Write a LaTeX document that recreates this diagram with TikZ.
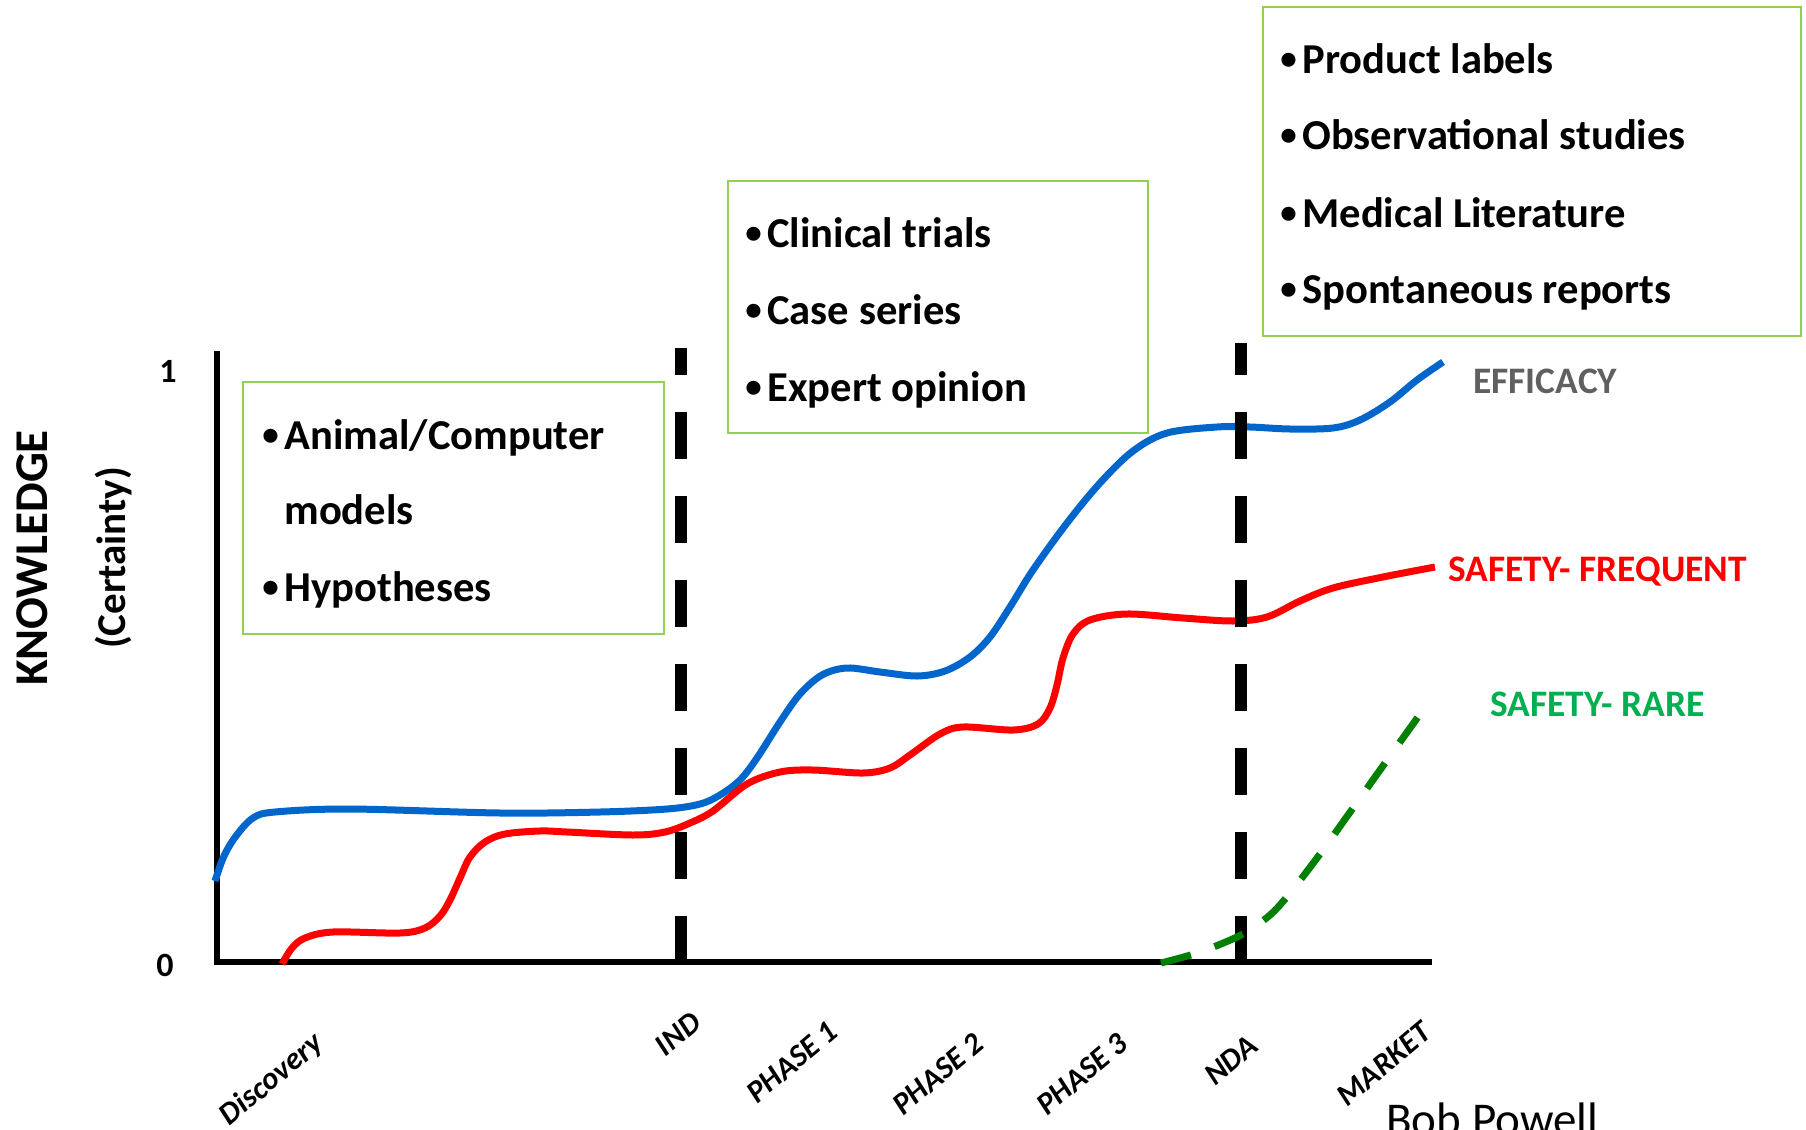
\documentclass[tikz,border=0pt]{standalone}
\usepackage{fontspec}
\setmainfont{Carlito}
\definecolor{boxgreen}{HTML}{92D050}
\definecolor{effblue}{HTML}{0066CC}
\definecolor{safred}{HTML}{FF0000}
\definecolor{raredash}{HTML}{008000}
\definecolor{raretext}{HTML}{00B050}
\definecolor{effgray}{HTML}{606060}
\begin{document}
\begin{tikzpicture}[x=0.5pt,y=-0.5pt,
  boxst/.style={draw=boxgreen, line width=1pt, inner sep=0pt},
  itemst/.style={anchor=base west, inner sep=0pt, font=\bfseries\fontsize{21.3pt}{25pt}\selectfont},
  bulst/.style={anchor=base west, inner sep=0pt, font=\bfseries\fontsize{16.5pt}{20pt}\selectfont},
  tickst/.style={rotate=40, inner sep=0pt, font=\bfseries\itshape\fontsize{15.6pt}{18pt}\selectfont},
  numst/.style={inner sep=0pt, font=\bfseries\fontsize{17pt}{20pt}\selectfont},
  seriesst/.style={anchor=base west, inner sep=0pt, font=\bfseries\fontsize{18.7pt}{22pt}\selectfont},
  axisst/.style={line width=3pt, black},
  phasest/.style={line width=6pt, black, dash pattern=on 23.5pt off 18.5pt},
  curvest/.style={line width=3.5pt, smooth, tension=0.55}
]
\useasboundingbox (0,0) rectangle (1806,1130);
\fill[white] (0,0) rectangle (1806,1130);

% axes
\coordinate (ytop) at (217,351);
\coordinate (origin) at (217,962);
\coordinate (xend) at (1432,962);
\draw[axisst] (ytop) |- (xend);

\node[numst] (one) at (168,371) {1};
\node[numst] (zero) at (165,965) {0};
\node[rotate=90, inner sep=0pt, font=\bfseries\fontsize{23.5pt}{28pt}\selectfont] (know) at (32,558) {KNOWLEDGE};
\node[rotate=90, inner sep=0pt, font=\bfseries\fontsize{20.5pt}{24pt}\selectfont] (cert) at (114,558) {(Certainty)};

% boxes
\node[boxst, anchor=north west, minimum width=210.5pt, minimum height=126pt] (box1) at (242,381) {};
\node[bulst] (b1a) at (262,445) {•};
\node[itemst] (t1a) at (284,449) {Animal/Computer};
\node[itemst] (t1b) at (284,524) {models};
\node[bulst] (b1c) at (262,597) {•};
\node[itemst] (t1c) at (284,601) {Hypotheses};

\node[boxst, anchor=north west, minimum width=210pt, minimum height=126pt] (box2) at (727,180) {};
\node[bulst] (b2a) at (745,243) {•};
\node[itemst] (t2a) at (767,247) {Clinical trials};
\node[bulst] (b2b) at (745,320) {•};
\node[itemst] (t2b) at (767,324) {Case series};
\node[bulst] (b2c) at (745,397) {•};
\node[itemst] (t2c) at (767,401) {Expert opinion};

\node[boxst, anchor=north west, minimum width=269pt, minimum height=164.5pt] (box3) at (1262,6) {};
\node[bulst] (b3a) at (1280,69) {•};
\node[itemst] (t3a) at (1302,73) {Product labels};
\node[bulst] (b3b) at (1280,145) {•};
\node[itemst] (t3b) at (1302,149) {Observational studies};
\node[bulst] (b3c) at (1280,223) {•};
\node[itemst] (t3c) at (1302,227) {Medical Literature};
\node[bulst] (b3d) at (1280,299) {•};
\node[itemst] (t3d) at (1302,303) {Spontaneous reports};

% curves
\draw[effblue, curvest] plot coordinates {(215,881) (224,856) (236,836) (253,818) (275,812) (350,809) (500,813) (600,812) (667,809) (700,804) (720,795) (740,780) (757,758) (780,722) (800,694) (822,675) (847,668) (880,672) (917,676) (945,671) (970,657) (990,637) (1010,607) (1033,570) (1067,523) (1100,483) (1133,451) (1167,433) (1217,427) (1250,427) (1290,429) (1333,428) (1360,420) (1390,402) (1417,380) (1443,362)};

\draw[safred, curvest] plot coordinates {(282,964) (292,948) (305,938) (333,932) (400,933) (425,928) (440,916) (450,900) (460,878) (470,857) (485,842) (505,834) (540,831) (567,832) (633,835) (665,832) (690,823) (713,811) (747,784) (780,772) (813,770) (863,773) (890,768) (910,755) (940,734) (963,727) (1013,730) (1038,724) (1050,708) (1057,685) (1063,658) (1073,634) (1090,620) (1127,614) (1183,618) (1233,621) (1267,617) (1300,601) (1333,588) (1383,577) (1435,567)};

% phase lines
\coordinate (indb) at (681,963);
\coordinate (indt) at (681,348);
\coordinate (ndab) at (1241,963);
\coordinate (ndat) at (1241,343);
\draw[phasest] (indb) -- (indt);
\draw[phasest] (ndab) -- (ndat);

\draw[raredash, line width=3.5pt, dash pattern=on 15.5pt off 12.5pt, smooth, tension=0.55] plot coordinates {(1161,963) (1200,952) (1243,934) (1270,915) (1290,893) (1320,854) (1353,808) (1385,763) (1418,717)};

% series labels
\node[seriesst, text=effgray] (eff) at (1473,393) {EFFICACY};
\node[seriesst, text=safred] (freq) at (1448,581) {SAFETY- FREQUENT};
\node[seriesst, text=raretext] (rare) at (1490,716) {SAFETY- RARE};

% x tick labels
\node[tickst] (disc) at (272,1080) {Discovery};
\node[tickst] (ind) at (678,1034) {IND};
\node[tickst] (ph1) at (792,1062) {PHASE 1};
\node[tickst] (ph2) at (938,1074) {PHASE 2};
\node[tickst] (ph3) at (1082,1074) {PHASE 3};
\node[tickst] (nda) at (1231,1060) {NDA};
\node[tickst] (mkt) at (1384,1064) {MARKET};

\node[anchor=base west, inner sep=0pt, font=\fontsize{23.5pt}{28pt}\selectfont] (author) at (1386,1135) {Bob Powell};
\end{tikzpicture}
\end{document}
